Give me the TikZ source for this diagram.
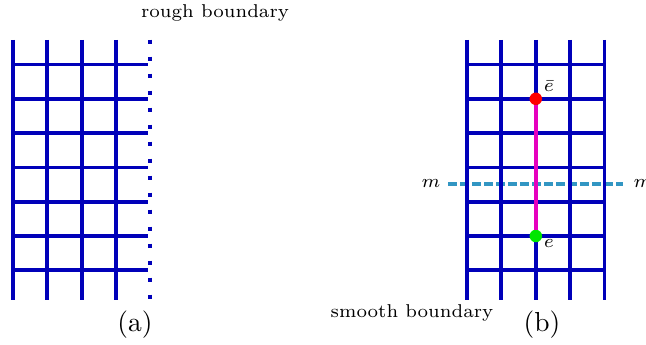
\documentclass[tikz,border=0pt]{standalone}
\definecolor{gridblue}{RGB}{0,0,185}
\definecolor{mred}{RGB}{255,0,0}
\definecolor{mgreen}{RGB}{0,230,0}
\definecolor{mmag}{RGB}{230,0,190}
\definecolor{mteal}{RGB}{50,150,195}
\tikzset{
  gridline/.style={draw=gridblue, line width=3.8pt},
  roughline/.style={draw=gridblue, line width=4pt, dash pattern=on 4pt off 13pt},
  dualline/.style={draw=mteal, line width=4pt, dash pattern=on 8.5pt off 3.5pt},
  stringline/.style={draw=mmag, line width=4pt},
  dot/.style={circle, inner sep=0pt, minimum size=12.5pt},
  lbl/.style={inner sep=0pt},
}
\newcommand{\bigtxt}[1]{\scalebox{2.65}{\scriptsize #1}}
\newcommand{\captxt}[1]{\scalebox{2.75}{#1}}
\begin{document}
\begin{tikzpicture}[x=1pt,y=-1pt]
\useasboundingbox (0,0) rectangle (646,345);
% panel (a)
\foreach \x in {13,47.3,81.6,115.9}
  \draw[gridline] (\x,40) -- (\x,299.5);
\foreach \y in {64.5,98.8,133.1,167.4,201.7,236,270.3}
  \draw[gridline] (13,\y) -- (148,\y);
\coordinate (rt) at (150,39.7);
\coordinate (rb) at (150,298.7);
\draw[roughline] (rt) -- (rb);
\node[lbl] (rough) at (215,13) {\bigtxt{rough boundary}};
\node[lbl] (capa) at (135,325) {\captxt{(a)}};
% panel (b)
\coordinate (ml) at (448,183.5);
\coordinate (mr) at (623,183.5);
\draw[dualline] (ml) -- (mr);
\foreach \x in {466.7,501.3,535.8,570.2,604.5}
  \draw[gridline] (\x,40) -- (\x,299.5);
\foreach \y in {64.5,98.8,133.1,167.4,201.7,236,270.3}
  \draw[gridline] (466.7,\y) -- (604.5,\y);
\node[dot, fill=mred] (ebar) at (535.8,98.8) {};
\node[dot, fill=mgreen] (e) at (535.8,236) {};
\draw[stringline] (ebar.south) -- (e.north);
\node[lbl] (ebarl) at (549,86) {\bigtxt{$\bar e$}};
\node[lbl] (el) at (549,244) {\bigtxt{$e$}};
\node[lbl] (mll) at (431,184) {\bigtxt{$m$}};
\node[lbl] (mrl) at (643,184) {\bigtxt{$m$}};
\node[lbl] (smooth) at (412,313) {\bigtxt{smooth boundary}};
\node[lbl] (capb) at (542,325) {\captxt{(b)}};
\end{tikzpicture}
\end{document}
